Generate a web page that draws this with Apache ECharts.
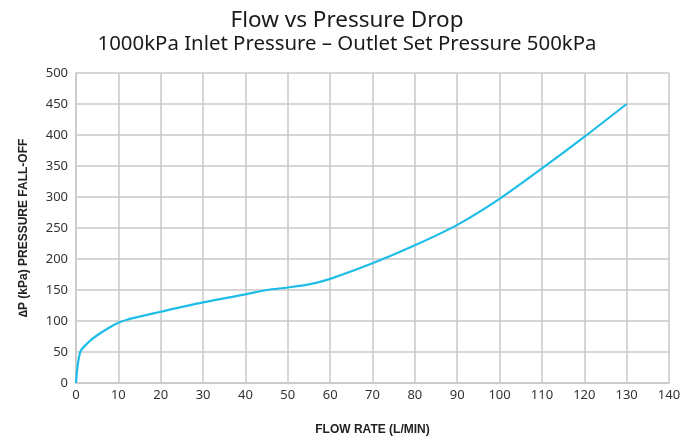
<!DOCTYPE html>
<html><head><meta charset="utf-8">
<script src="https://cdn.jsdelivr.net/npm/echarts@6/dist/echarts.min.js"></script>
<style>html,body{margin:0;padding:0;background:#fff}#c{width:694px;height:437px}</style>
</head><body><div id="c"></div>
<script>
const flowRate = [0, 1, 3, 5, 8, 10, 12, 15, 20, 30, 40, 45, 50, 55, 60, 70, 80, 90, 100, 110, 120, 130];
const pressureDrop = [0, 50, 66, 77, 90, 97, 102, 107, 115, 130, 143, 150, 154, 159, 168, 193, 222, 255, 297, 346, 397, 450];
const xTicks = { min: 0, max: 140, interval: 10 };
const yTicks = { min: 0, max: 500, interval: 50 };
const titleText = 'Flow vs Pressure Drop';
const subtitleText = '1000kPa Inlet Pressure \u2013 Outlet Set Pressure 500kPa';
const xName = 'FLOW RATE (L/MIN)';
const yName = '\u2206P (kPa) PRESSURE FALL-OFF';

const chart = echarts.init(document.getElementById('c'));
const font = 'Noto Sans';
chart.setOption({
  animation: false,
  title: [
    { text: titleText, left: 'center', top: 4, textStyle: { fontFamily: font, fontSize: 22.5, fontWeight: 'normal', color: '#1a1a1a' } },
    { text: subtitleText, left: 'center', top: 29, textStyle: { fontFamily: font, fontSize: 20.4, fontWeight: 'normal', color: '#1a1a1a' } }
  ],
  grid: { left: 76, right: 25, top: 73, bottom: 54, containLabel: false, outerBoundsMode: 'none' },
  xAxis: {
    type: 'value', min: xTicks.min, max: xTicks.max, interval: xTicks.interval,
    name: xName, nameLocation: 'middle', nameGap: 41,
    nameTextStyle: { fontFamily: 'Liberation Sans', fontWeight: 'bold', fontSize: 12, color: '#222' },
    axisLine: { show: true, lineStyle: { color: '#c8c8c8', width: 1.5 } },
    axisTick: { show: false },
    axisLabel: { fontFamily: font, fontSize: 13, color: '#333', margin: 6 },
    splitLine: { show: true, lineStyle: { color: '#c8c8c8', width: 1.5 } }
  },
  yAxis: {
    type: 'value', min: yTicks.min, max: yTicks.max, interval: yTicks.interval,
    name: yName, nameLocation: 'middle', nameGap: 46, nameRotate: 90,
    nameTextStyle: { fontFamily: 'Liberation Sans', fontWeight: 'bold', fontSize: 12, color: '#222' },
    axisLine: { show: true, lineStyle: { color: '#c8c8c8', width: 1.5 } },
    axisTick: { show: false },
    axisLabel: { fontFamily: font, fontSize: 13, color: '#333', margin: 8 },
    splitLine: { show: true, lineStyle: { color: '#c8c8c8', width: 1.5 } }
  },
  series: [{
    type: 'line',
    data: flowRate.map((x, i) => [x, pressureDrop[i]]),
    smooth: 0.3,
    showSymbol: false,
    lineStyle: { color: '#1dbde8', width: 2.2 }
  }]
});
</script></body></html>
